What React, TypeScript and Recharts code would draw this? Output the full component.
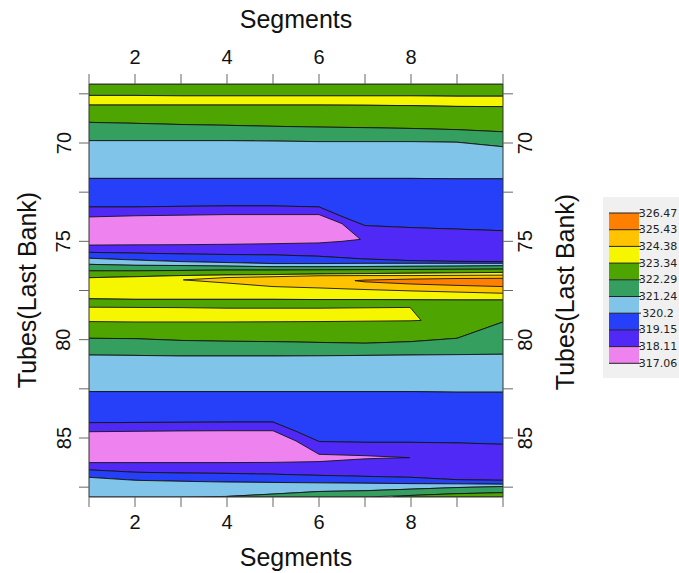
import React from "react";
import { ComposedChart, Area, XAxis, YAxis } from "recharts";

// contour levels shown in the key, top to bottom
const levels = [326.47, 325.43, 324.38, 323.34, 322.29, 321.24, 320.2, 319.15, 318.11, 317.06];

const ORANGE = "#ff8000";
const GOLD = "#ffc300";
const YELLOW = "#f6f600";
const GREEN = "#4ea400";
const SEAGREEN = "#359f5f";
const LIGHTBLUE = "#80c4e9";
const BLUE = "#2640f9";
const PURPLE = "#5029f6";
const PINK = "#ee82ee";
const levelColors = [ORANGE, GOLD, YELLOW, GREEN, SEAGREEN, LIGHTBLUE, BLUE, PURPLE, PINK];

const xTicks = [1, 2, 3, 4, 5, 6, 7, 8, 9, 10];
const xLabels = [2, 4, 6, 8];
const yTicks = [67.5, 70, 72.5, 75, 77.5, 80, 82.5, 85, 87.5];
const yLabels = [70, 75, 80, 85];

// contour boundaries (tube position) read per segment
const segments = [1, 2, 3, 4, 5, 6, 7, 8, 9, 10];
const kneeA = [1, 2, 3, 4, 5, 6, 6.5, 7, 8, 9, 10];
const kneeB = [1, 2, 3, 4, 5, 5.5, 6, 7, 8, 9, 10];

const tubeTop = [67, 67, 67, 67, 67, 67, 67, 67, 67, 67];
const c1 = [67.58, 67.58, 67.6, 67.6, 67.6, 67.6, 67.6, 67.6, 67.62, 67.62];
const c2 = [68.07, 68.07, 68.07, 68.07, 68.07, 68.07, 68.08, 68.1, 68.14, 68.15];
const c3 = [68.95, 69.0, 69.06, 69.1, 69.15, 69.19, 69.22, 69.26, 69.32, 69.43];
const c4 = [69.88, 69.88, 69.88, 69.88, 69.9, 69.93, 69.93, 69.93, 69.96, 70.19];
const c5 = [71.8, 71.8, 71.8, 71.8, 71.8, 71.8, 71.8, 71.8, 71.82, 71.82];
const c5a = [71.8, 71.8, 71.8, 71.8, 71.8, 71.8, 71.8, 71.8, 71.8, 71.82, 71.82];
const c6a = [73.25, 73.25, 73.22, 73.2, 73.2, 73.25, 73.74, 74.2, 74.3, 74.38, 74.46];
const c9a = [75.56, 75.6, 75.64, 75.67, 75.69, 75.76, 75.83, 75.9, 75.98, 76.02, 76.03];
const c9 = [75.56, 75.6, 75.64, 75.67, 75.69, 75.76, 75.9, 75.98, 76.02, 76.03];
const c10 = [75.86, 75.95, 76.03, 76.08, 76.13, 76.13, 76.12, 76.12, 76.12, 76.12];
const c11 = [76.17, 76.22, 76.23, 76.26, 76.29, 76.29, 76.28, 76.27, 76.26, 76.24];
const c12 = [76.5, 76.5, 76.48, 76.46, 76.46, 76.45, 76.44, 76.43, 76.42, 76.41];
const c13 = [76.85, 76.8, 76.74, 76.71, 76.69, 76.66, 76.64, 76.62, 76.6, 76.58];
const c14 = [77.92, 77.95, 77.95, 77.95, 77.95, 77.96, 77.96, 77.97, 77.98, 77.98];
const c17 = [79.93, 79.95, 80.04, 80.08, 80.1, 80.14, 80.18, 80.1, 79.93, 79.1];
const c18 = [80.78, 80.8, 80.83, 80.83, 80.83, 80.82, 80.8, 80.78, 80.76, 80.74];
const c19b = [82.64, 82.64, 82.64, 82.64, 82.64, 82.64, 82.64, 82.64, 82.64, 82.67, 82.67];
const c20b = [84.22, 84.21, 84.2, 84.19, 84.19, 84.66, 85.18, 85.22, 85.22, 85.25, 85.32];
const c23b = [86.62, 86.74, 86.78, 86.8, 86.84, 86.87, 86.9, 86.95, 87.0, 87.12, 87.15];
const c23 = [86.62, 86.74, 86.78, 86.8, 86.84, 86.9, 86.95, 87.0, 87.12, 87.15];
const c24 = [87.0, 87.15, 87.2, 87.24, 87.26, 87.28, 87.3, 87.32, 87.33, 87.35];
const c25 = [88, 88, 88, 87.97, 87.85, 87.72, 87.68, 87.6, 87.52, 87.47];

// closed islands inside the bands
const pinkUpperXs = [1, 2, 3, 4, 5, 6, 6.5, 6.9];
const pinkUpperTop = [73.76, 73.7, 73.67, 73.64, 73.64, 73.64, 74.1, 74.9];
const pinkUpperBottom = [75.19, 75.18, 75.17, 75.15, 75.12, 75.08, 75.0, 74.9];

const goldXs = [3.05, 4, 5, 6, 7, 8, 9, 10];
const goldTop = [76.96, 76.84, 76.8, 76.75, 76.74, 76.74, 76.73, 76.72];
const goldBottom = [76.96, 77.12, 77.3, 77.37, 77.45, 77.52, 77.58, 77.64];

const orangeXs = [6.78, 7, 8, 9, 10];
const orangeTop = [77.0, 76.97, 76.92, 76.89, 76.88];
const orangeBottom = [77.0, 77.06, 77.17, 77.24, 77.3];

const yellowLensXs = [1, 2, 3, 4, 5, 6, 7, 7.98, 8.22];
const yellowLensTop = [78.35, 78.36, 78.37, 78.4, 78.4, 78.4, 78.38, 78.36, 79.02];
const yellowLensBottom = [79.08, 79.1, 79.1, 79.1, 79.09, 79.08, 79.06, 79.04, 79.02];

const pinkLowerXs = [1, 2, 3, 4, 5, 5.5, 6, 7, 7.5, 7.97];
const pinkLowerTop = [84.68, 84.66, 84.64, 84.63, 84.63, 85.15, 85.83, 85.9, 85.95, 86.0];
const pinkLowerBottom = [86.25, 86.25, 86.25, 86.25, 86.24, 86.22, 86.2, 86.06, 86.02, 86.0];

const seagreenFootXs = [4, 5, 6, 7, 8, 9, 10];
const seagreenFootTop = [87.97, 87.85, 87.72, 87.68, 87.6, 87.52, 87.47];
const seagreenFootBottom = [88, 88, 88, 88, 87.92, 87.83, 87.78];

const greenFootXs = [7.6, 8, 9, 10];
const greenFootTop = [88, 87.92, 87.83, 87.78];
const greenFootBottom = [88, 88, 88, 88];

const tubeBottom = [88, 88, 88, 88, 88, 88, 88, 88, 88, 88];

interface Band {
    key: string;
    color: string;
    xs: number[];
    top: number[];
    bottom: number[];
}

// painted in this order, islands after the band that holds them
const bands: Band[] = [
    { key: "b01", color: GREEN, xs: segments, top: tubeTop, bottom: c1 },
    { key: "b02", color: YELLOW, xs: segments, top: c1, bottom: c2 },
    { key: "b03", color: GREEN, xs: segments, top: c2, bottom: c3 },
    { key: "b04", color: SEAGREEN, xs: segments, top: c3, bottom: c4 },
    { key: "b05", color: LIGHTBLUE, xs: segments, top: c4, bottom: c5 },
    { key: "b06", color: BLUE, xs: kneeA, top: c5a, bottom: c6a },
    { key: "b07", color: PURPLE, xs: kneeA, top: c6a, bottom: c9a },
    { key: "b08", color: PINK, xs: pinkUpperXs, top: pinkUpperTop, bottom: pinkUpperBottom },
    { key: "b09", color: BLUE, xs: segments, top: c9, bottom: c10 },
    { key: "b10", color: LIGHTBLUE, xs: segments, top: c10, bottom: c11 },
    { key: "b11", color: SEAGREEN, xs: segments, top: c11, bottom: c12 },
    { key: "b12", color: GREEN, xs: segments, top: c12, bottom: c13 },
    { key: "b13", color: YELLOW, xs: segments, top: c13, bottom: c14 },
    { key: "b14", color: GOLD, xs: goldXs, top: goldTop, bottom: goldBottom },
    { key: "b15", color: ORANGE, xs: orangeXs, top: orangeTop, bottom: orangeBottom },
    { key: "b16", color: GREEN, xs: segments, top: c14, bottom: c17 },
    { key: "b17", color: YELLOW, xs: yellowLensXs, top: yellowLensTop, bottom: yellowLensBottom },
    { key: "b18", color: SEAGREEN, xs: segments, top: c17, bottom: c18 },
    { key: "b19", color: LIGHTBLUE, xs: segments, top: c18, bottom: c19b.filter((_, i) => kneeB[i] % 1 === 0) },
    { key: "b20", color: BLUE, xs: kneeB, top: c19b, bottom: c20b },
    { key: "b21", color: PURPLE, xs: kneeB, top: c20b, bottom: c23b },
    { key: "b22", color: PINK, xs: pinkLowerXs, top: pinkLowerTop, bottom: pinkLowerBottom },
    { key: "b23", color: BLUE, xs: segments, top: c23, bottom: c24 },
    { key: "b24", color: LIGHTBLUE, xs: segments, top: c24, bottom: c25 },
    { key: "b25", color: SEAGREEN, xs: seagreenFootXs, top: seagreenFootTop, bottom: seagreenFootBottom },
    { key: "b26", color: GREEN, xs: greenFootXs, top: greenFootTop, bottom: greenFootBottom },
];

const allXs = Array.from(new Set(bands.flatMap((b) => b.xs))).sort((a, b) => a - b);
const tableData = allXs.map((x) => {
    const row: Record<string, any> = { x };
    bands.forEach((b) => {
        const i = b.xs.indexOf(x);
        row[b.key] = i >= 0 ? [b.top[i], b.bottom[i]] : [null, null];
    });
    return row;
});

const FONT = "'Liberation Sans', Arial, sans-serif";

const renderXTick = (props: any, dy: number) => {
    const { x, y, payload } = props;
    if (!xLabels.includes(payload.value)) return <g />;
    return (
        <text x={x} y={y + dy} textAnchor="middle" dominantBaseline="central" fontSize={20} fill="#111" fontFamily={FONT}>
            {payload.value}
        </text>
    );
};

const renderYTick = (props: any, dx: number) => {
    const { x, y, payload } = props;
    if (!yLabels.includes(payload.value)) return <g />;
    const cx = x + dx;
    return (
        <text x={cx} y={y} transform={`rotate(-90 ${cx} ${y})`} textAnchor="middle" dominantBaseline="central" fontSize={20} fill="#111" fontFamily={FONT}>
            {payload.value}
        </text>
    );
};

export default function App() {
    const keyTop = 213;
    const keyStep = 16.7;
    return (
        <div style={{ position: "absolute", left: 0, top: 0, width: 679, height: 573, background: "#fff", fontFamily: FONT }}>
            <ComposedChart width={590} height={573} data={tableData} margin={{ top: 0, right: 0, bottom: 0, left: 0 }}>
                {bands.map((b) => (
                    <Area
                        key={b.key}
                        xAxisId="bottom"
                        yAxisId="left"
                        dataKey={b.key}
                        type="linear"
                        fill={b.color}
                        fillOpacity={1}
                        stroke="#151515"
                        strokeWidth={0.9}
                        connectNulls
                        dot={false}
                        activeDot={false}
                        isAnimationActive={false}
                    />
                ))}
                <XAxis
                    xAxisId="bottom"
                    orientation="bottom"
                    dataKey="x"
                    type="number"
                    domain={[1, 10]}
                    allowDataOverflow
                    ticks={xTicks}
                    interval={0}
                    height={76}
                    tickSize={10}
                    axisLine={{ stroke: "#333" }}
                    tickLine={{ stroke: "#666" }}
                    tick={(p: any) => renderXTick(p, 13)}
                />
                <XAxis
                    xAxisId="top"
                    orientation="top"
                    dataKey="x"
                    type="number"
                    domain={[1, 10]}
                    allowDataOverflow
                    ticks={xTicks}
                    interval={0}
                    height={84}
                    tickSize={10}
                    axisLine={{ stroke: "#333" }}
                    tickLine={{ stroke: "#666" }}
                    tick={(p: any) => renderXTick(p, -15)}
                />
                <YAxis
                    yAxisId="left"
                    orientation="left"
                    type="number"
                    domain={[67, 88]}
                    reversed
                    allowDataOverflow
                    ticks={yTicks}
                    interval={0}
                    width={89}
                    tickSize={10}
                    axisLine={{ stroke: "#333" }}
                    tickLine={{ stroke: "#666" }}
                    tick={(p: any) => renderYTick(p, -13.5)}
                />
                <YAxis
                    yAxisId="right"
                    orientation="right"
                    type="number"
                    domain={[67, 88]}
                    reversed
                    allowDataOverflow
                    ticks={yTicks}
                    interval={0}
                    width={87}
                    tickSize={10}
                    axisLine={{ stroke: "#333" }}
                    tickLine={{ stroke: "#666" }}
                    tick={(p: any) => renderYTick(p, 10)}
                />
            </ComposedChart>
            <svg width={679} height={573} style={{ position: "absolute", left: 0, top: 0, pointerEvents: "none" }}>
                <g fontFamily={FONT} fontSize={25} fill="#111">
                    <text x={296} y={19} textAnchor="middle" dominantBaseline="central">Segments</text>
                    <text x={296} y={557} textAnchor="middle" dominantBaseline="central">Segments</text>
                    <text x={27} y={290} transform="rotate(-90 27 290)" textAnchor="middle" dominantBaseline="central">
                        Tubes(Last Bank)
                    </text>
                    <text x={565} y={292} transform="rotate(-90 565 292)" textAnchor="middle" dominantBaseline="central">
                        Tubes(Last Bank)
                    </text>
                </g>
                <rect x={603} y={197} width={76} height={181} fill="#f0f0f0" />
                {levelColors.map((c, i) => (
                    <rect key={c} x={609} y={keyTop + i * keyStep} width={30} height={keyStep} fill={c} />
                ))}
                {levels.map((v, i) => (
                    <g key={v}>
                        <line x1={609} x2={641} y1={keyTop + i * keyStep} y2={keyTop + i * keyStep} stroke="#222" strokeWidth={1} />
                        <text x={658} y={keyTop + i * keyStep} textAnchor="middle" dominantBaseline="central" fontSize={11} fill="#222" fontFamily="'DejaVu Sans', sans-serif">
                            {v}
                        </text>
                    </g>
                ))}
            </svg>
        </div>
    );
}
